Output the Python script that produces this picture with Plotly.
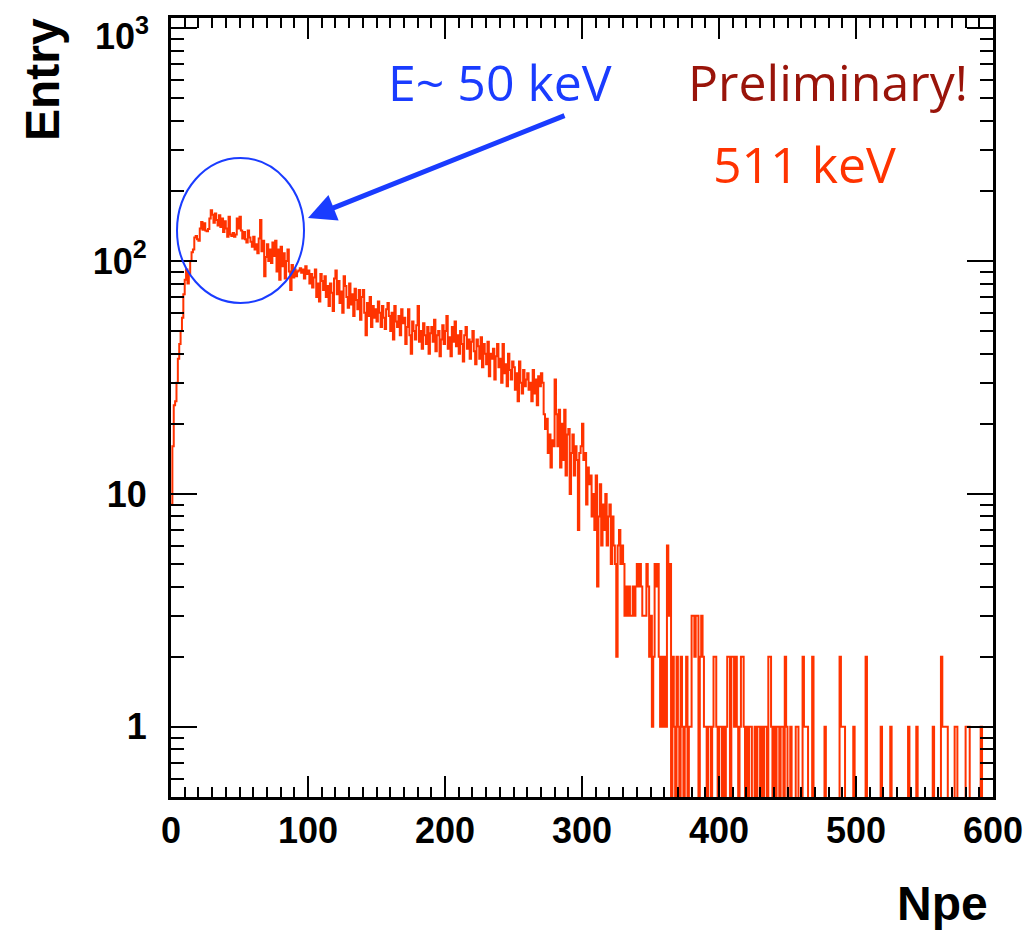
import plotly.graph_objects as go
import numpy as np

# Npe spectrum, one bin per photo-electron, 0..600
counts = [
    9, 16, 24, 25, 30, 38, 44, 50, 57, 72,          # 0
    83, 92, 80, 88, 100, 109, 112, 126, 128, 124,   # 10
    122, 138, 147, 136, 145, 135, 134, 137, 152, 165,  # 20
    158, 146, 160, 150, 142, 157, 140, 152, 133, 148,  # 30
    138, 127, 155, 130, 128, 132, 127, 130, 152, 138,  # 40
    155, 135, 125, 133, 124, 120, 135, 126, 121, 115,  # 50
    127, 112, 118, 108, 125, 150, 110, 122, 86, 104,   # 60
    118, 100, 112, 98, 120, 105, 122, 90, 112, 83,     # 70
    115, 95, 108, 84, 100, 112, 90, 75, 96, 85,        # 80
    92, 86, 90, 91, 93, 89, 92, 84, 95, 88,            # 90
    91, 80, 88, 77, 85, 92, 70, 80, 67, 88,            # 100
    82, 75, 86, 70, 78, 64, 80, 73, 61, 84,            # 110
    91, 72, 82, 66, 74, 60, 86, 78, 70, 63,            # 120
    80, 65, 72, 58, 76, 68, 62, 75, 56, 70,            # 130
    75, 60, 48, 66, 58, 70, 52, 64, 57, 62,            # 140
    55, 67, 60, 52, 64, 57, 51, 62, 66, 58,            # 150
    50, 60, 46, 64, 55, 52, 58, 48, 62, 54,            # 160
    57, 44, 52, 62, 48, 40, 55, 50, 46, 53,            # 170
    64, 45, 50, 42, 54, 48, 44, 52, 40, 49,            # 180
    52, 45, 56, 41, 48, 50, 39, 46, 53, 44,            # 190
    50, 58, 42, 47, 39, 52, 45, 55, 43, 48,            # 200
    40, 50, 44, 37, 48, 52, 42, 46, 38, 45,            # 210
    50, 41, 36, 46, 43, 38, 47, 35, 44, 40,            # 220
    36, 45, 32, 40, 38, 42, 31, 39, 44, 35,            # 230
    38, 30, 44, 33, 36, 29, 40, 34, 31, 37,            # 240
    35, 28, 33, 25, 37, 30, 27, 34, 29, 31,            # 250
    33, 28, 30, 25, 34, 27, 31, 24, 32, 29,            # 260
    33, 30, 22, 19, 21, 15, 18, 13, 17, 16,            # 270
    31, 22, 16, 23, 13, 20, 14, 23, 12, 18,            # 280
    19, 10, 15, 18, 12, 16, 14, 7, 15, 16,             # 290
    20, 14, 15, 9, 13, 11, 12, 8, 10, 7,               # 300
    12, 4, 8, 11, 6, 9, 7, 10, 6, 8,                   # 310
    9, 5, 8, 6, 5, 2, 6, 7, 5, 6,                      # 320
    5, 3, 4, 3, 4, 3, 3, 4, 3, 4,                      # 330
    5, 4, 5, 4, 3, 3, 3, 5, 4, 2,                      # 340
    3, 1, 2, 5, 4, 5, 2, 1, 2, 1,                      # 350
    2, 1, 6, 3, 5, 0, 2, 1, 0, 2,                      # 360
    1, 0, 2, 1, 0, 1, 2, 0, 1, 1,                      # 370
    3, 3, 2, 3, 3, 0, 2, 3, 2, 1,                      # 380
    1, 0, 1, 1, 0, 1, 2, 2, 1, 0,                      # 390
    1, 1, 0, 1, 0, 1, 2, 2, 0, 2,                      # 400
    2, 1, 2, 1, 0, 1, 2, 2, 1, 0,                      # 410
    1, 0, 1, 1, 0, 0, 1, 0, 1, 1,                      # 420
    0, 1, 0, 1, 1, 0, 2, 2, 1, 0,                      # 430
    1, 0, 1, 1, 0, 1, 1, 0, 2, 1,                      # 440
    0, 0, 1, 0, 0, 0, 1, 1, 0, 0,                      # 450
    0, 2, 1, 1, 1, 0, 0, 0, 2, 0,                      # 460
    0, 0, 0, 0, 0, 0, 0, 1, 0, 0,                      # 470
    0, 0, 0, 0, 0, 0, 0, 0, 2, 1,                      # 480
    1, 1, 0, 0, 0, 0, 0, 0, 1, 0,                      # 490
    0, 0, 0, 0, 0, 0, 0, 2, 0, 0,                      # 500
    0, 0, 0, 0, 0, 0, 0, 0, 1, 0,                      # 510
    0, 0, 0, 0, 0, 1, 0, 0, 0, 0,                      # 520
    0, 0, 0, 0, 0, 0, 0, 0, 1, 0,                      # 530
    0, 0, 0, 0, 1, 0, 0, 0, 0, 0,                      # 540
    0, 0, 0, 0, 0, 0, 1, 0, 0, 0,                      # 550
    0, 0, 2, 1, 1, 1, 1, 0, 0, 0,                      # 560
    0, 0, 1, 1, 0, 0, 0, 0, 0, 0,                      # 570
    1, 1, 1, 0, 0, 0, 0, 0, 0, 0,                      # 580
    0, 1, 0, 0, 0, 0, 0, 0, 0, 0,                      # 590
]
npe_lo, npe_hi = 0, 600

xtick_vals = [0, 100, 200, 300, 400, 500, 600]
ytick_vals = [1, 10, 100, 1000]
# the top label is drawn as an annotation so it does not get clipped at the page edge
ytick_text = ["1", "10", "10<sup>2</sup>", ""]
top_label = "10<sup>3</sup>"

# frame in page pixels (1031x934 window); the page body adds an 8px offset
L, R, T, B = 171, 993, 18, 797
W, H = 1031, 934
OFF = 8


def px2x(px):
    return (px - L) / (R - L)


def px2y(py):
    return (B - py) / (B - T)


edges = np.linspace(npe_lo, npe_hi, len(counts) + 1)
y = np.array(counts, dtype=float)
y_draw = np.where(y > 0, y, 1e-3)  # empty bins fall out of the frame, like ROOT
ys = np.append(y_draw, y_draw[-1])

fig = go.Figure()
fig.add_trace(go.Scatter(x=edges, y=ys, mode="lines",
                         line=dict(shape="hv", color="#ff3300", width=2),
                         showlegend=False, hoverinfo="skip"))

minor_y = []
for d in [0.1, 1, 10, 100]:
    for k in range(2, 10):
        v = k * d
        if 0.5 <= v <= 1100:
            minor_y.append(v)

tickfont = dict(family="Liberation Sans", size=36, color="black", weight="bold")
axis_common = dict(showline=True, linecolor="black", linewidth=3, mirror="ticks",
                   ticks="inside", tickcolor="black", tickwidth=2,
                   showgrid=False, zeroline=False, ticklabeloverflow="allow", automargin=False,
                   tickfont=tickfont)

fig.update_xaxes(range=[npe_lo, npe_hi], tickvals=xtick_vals, ticklen=21,
                 minor=dict(dtick=10, ticks="inside", ticklen=10, tickcolor="black", tickwidth=2),
                 **axis_common)
fig.update_yaxes(type="log", range=[np.log10(0.5), np.log10(1104)],
                 tickvals=ytick_vals, ticktext=ytick_text, ticklen=26, ticklabelstandoff=14,
                 minor=dict(tickvals=minor_y, ticks="inside", ticklen=13, tickcolor="black", tickwidth=2),
                 **axis_common)

blue = "#1a3cff"
fig.add_shape(type="circle", xref="paper", yref="paper",
              x0=px2x(177), x1=px2x(304), y0=px2y(303), y1=px2y(158),
              line=dict(color=blue, width=2))

txt = dict(family="Open Sans", size=50)
mid = dict(xref="paper", yref="paper", xanchor="center", yanchor="middle", showarrow=False)
fig.add_annotation(text="E~ 50 keV", x=px2x(500), y=px2y(82),
                   font=dict(color=blue, **txt), **mid)
fig.add_annotation(text="Preliminary!", x=px2x(828), y=px2y(82),
                   font=dict(color="#99140a", **txt), **mid)
fig.add_annotation(text="511 keV", x=px2x(804), y=px2y(164),
                   font=dict(color="#ff3300", **txt), **mid)
fig.add_annotation(text="", xref="paper", yref="paper", x=px2x(308), y=px2y(218),
                   ax=258, ay=-103, showarrow=True, arrowcolor=blue,
                   arrowwidth=5, arrowhead=2, arrowsize=1.1)

fig.add_annotation(text=top_label, xref="paper", yref="paper", x=px2x(151), y=px2y(34),
                   xanchor="right", yanchor="middle", showarrow=False, font=tickfont)

fig.add_annotation(text="Entry", x=px2x(42), y=px2y(80), textangle=-90,
                   font=dict(family="Liberation Sans", size=48, color="black", weight="bold"), **mid)
fig.add_annotation(text="Npe", x=px2x(942), y=px2y(904),
                   font=dict(family="Liberation Sans", size=48, color="black", weight="bold"), **mid)

fig.update_layout(width=W - OFF, height=H - OFF, plot_bgcolor="white", paper_bgcolor="white",
                  margin=dict(l=L - OFF, r=W - R, t=T - OFF, b=H - B, autoexpand=False))

fig.write_html("out.html")
